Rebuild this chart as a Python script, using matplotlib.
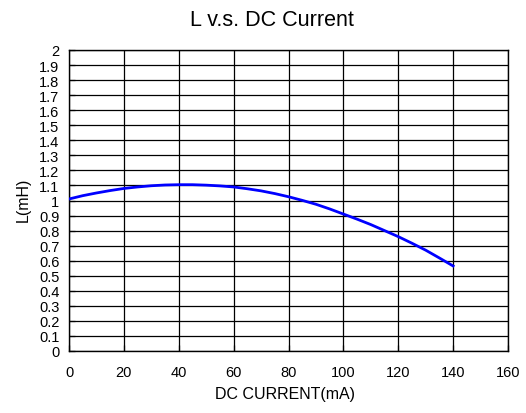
import matplotlib
matplotlib.use("Agg")
import matplotlib.pyplot as plt

plt.rcParams['font.family'] = ['Liberation Sans', 'DejaVu Sans']

# values (every 5 mA)
current_ma = list(range(0, 141, 5))
inductance_mh = [1.01, 1.032, 1.05, 1.066, 1.08, 1.09, 1.098, 1.103, 1.105, 1.105,
                 1.102, 1.097, 1.09, 1.078, 1.064, 1.046, 1.025, 1.001, 0.975, 0.944,
                 0.91, 0.876, 0.84, 0.80, 0.76, 0.716, 0.67, 0.618, 0.565]

x_ticks = list(range(0, 161, 20))
y_ticks = [round(v * 0.1, 1) for v in range(0, 21)]
y_labels = [f"{v:g}" for v in y_ticks]

W, H = 526, 414
fig = plt.figure(figsize=(W / 100, H / 100), dpi=100)
ax = fig.add_axes([69 / W, 1 - 352 / H, (508 - 69) / W, (352 - 51) / H])

ax.plot(current_ma, inductance_mh, color="#0000ff", linewidth=2, zorder=3)

ax.set_xlim(0, 160)
ax.set_ylim(0, 2)
ax.set_xticks(x_ticks)
ax.set_yticks(y_ticks)
ax.set_yticklabels(y_labels)
ax.grid(True, color="black", linewidth=0.9)
ax.tick_params(direction="in", length=4, width=0.9, labelsize=10.5)
ax.tick_params(axis="x", pad=10)
ax.tick_params(axis="y", pad=7)
for s in ax.spines.values():
    s.set_linewidth(1)

# labels placed in figure pixels to match the reference layout
fig.text(272 / W, 1 - 20 / H, "L v.s. DC Current", fontsize=15.5, ha="center", va="center")
fig.text(285 / W, 1 - 395 / H, "DC CURRENT(mA)", fontsize=11.5, ha="center", va="center")
fig.text(23 / W, 1 - 200 / H, "L(mH)", fontsize=11.5, ha="center", va="center", rotation=90)

fig.savefig("out.png", dpi=100)
